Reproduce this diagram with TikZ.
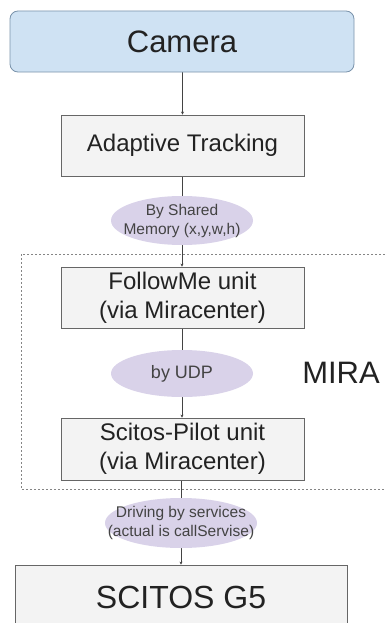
\documentclass[tikz,border=0pt]{standalone}
\usepackage{fontspec}
\setmainfont{Liberation Sans}
\usepackage{tikz}
\usetikzlibrary{shapes.geometric,arrows.meta}
\pgfdeclarelayer{bg}
\pgfsetlayers{bg,main}
\definecolor{camfill}{HTML}{CFE2F3}
\definecolor{camline}{HTML}{7A93AB}
\definecolor{boxfill}{HTML}{F3F3F3}
\definecolor{boxline}{HTML}{666666}
\definecolor{ovalfill}{HTML}{D9D2E9}
\definecolor{ink}{HTML}{222222}
\tikzset{
    every node/.style={inner sep=0mm, text=ink, align=center}
}
\tikzset{box/.style={rectangle, draw=boxline, fill=boxfill, line width=0.8pt,
    font=\fontsize{24}{29}\selectfont}}
\tikzset{cambox/.style={box, draw=camline, fill=camfill, rounded corners=8pt,
    font=\fontsize{31}{36}\selectfont}}
\tikzset{oval/.style={ellipse, fill=ovalfill, text=ink!85,
    font=\fontsize{15.5}{19}\selectfont}}
\tikzset{link/.style={draw=ink!85, line width=0.8pt}}
\tikzset{tip/.style={link, -{Stealth[length=3pt,width=3pt]}}}

\begin{document}
\begin{tikzpicture}
        \useasboundingbox (0cm, 0cm) rectangle (13.531172cm, -21.895896cm);
        \node (cam) [cambox, minimum width=12.090190cm, minimum height=2.143900cm] at (6.396554cm, -1.458555cm) {Camera};
        \node (track) [box, minimum width=8.540454cm, minimum height=2.143900cm] at (6.414127cm, -5.113728cm) {Adaptive Tracking};
        \node (shm) [oval, inner xsep=-12pt, minimum width=4.990718cm, minimum height=1.722149cm] at (6.396554cm, -7.749671cm) {By Shared\\Memory (x,y,w,h)};
        \node (follow) [box, minimum width=8.540454cm, minimum height=2.143900cm] at (6.414127cm, -10.455905cm) {FollowMe unit\\(via Miracenter)};
        \node (udp) [oval, minimum width=4.990718cm, minimum height=1.651857cm, font=\fontsize{18}{21}\selectfont] at (6.396554cm, -13.127000cm) {by UDP};
        \node (mira) [font=\fontsize{31}{36}\selectfont] at (11.984752cm, -13.109421cm) {MIRA};
        \node (pilot) [box, minimum width=8.540454cm, minimum height=2.179046cm] at (6.414127cm, -15.780509cm) {Scitos-Pilot unit\\(via Miracenter)};
        \node (drive) [oval, inner xsep=-23pt, minimum width=5.342177cm, minimum height=1.757295cm] at (6.361408cm, -18.381306cm) {Driving by services\\(actual is callServise)};
        \node (scitos) [box, minimum width=11.668439cm, minimum height=2.284484cm, font=\fontsize{32}{38}\selectfont] at (6.361408cm, -20.999675cm) {SCITOS G5};
        \begin{pgfonlayer}{bg}
                \draw [dashed, draw=boxline!80, line width=0.6pt, dash pattern=on 2pt off 2pt]
                        (13.531172cm, -8.927059cm) -| (0.738064cm, -17.186345cm) -- (13.531172cm, -17.186345cm);
                \draw (cam.south -| track.north) edge [tip] (track.north);
                \draw (track.south -| shm.north) edge [link] (shm.north);
                \draw (shm.south) edge [tip] (shm.south |- follow.north);
                \draw (follow.south -| udp.north) edge [link] (udp.north);
                \draw (udp.south) edge [tip] (udp.south |- pilot.north);
                \draw (pilot.south -| drive.north) edge [link] (drive.north);
                \draw (drive.south) edge [tip] (drive.south |- scitos.north);
        \end{pgfonlayer}
\end{tikzpicture}
\end{document}
